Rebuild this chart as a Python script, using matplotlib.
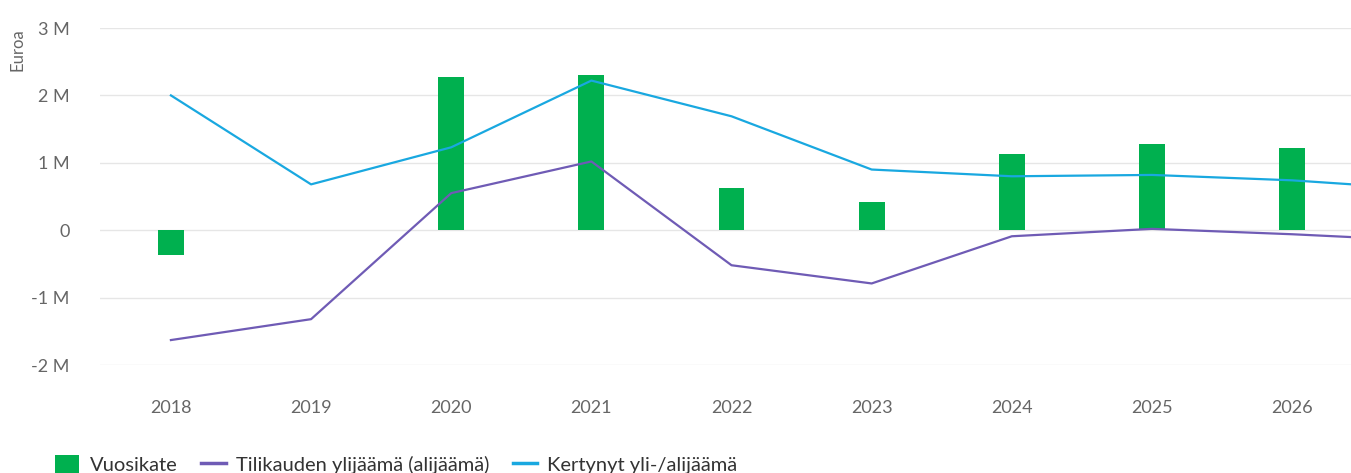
import numpy as np
import matplotlib
matplotlib.use('Agg')
import matplotlib.pyplot as plt
from matplotlib.patches import Patch
from matplotlib.lines import Line2D
from matplotlib.ticker import FuncFormatter

plt.rcParams['font.family'] = ['Lato', 'DejaVu Sans']

# Data (euros)
years = [2018, 2019, 2020, 2021, 2022, 2023, 2024, 2025, 2026]
vuosikate = [-0.37e6, 0.0, 2.27e6, 2.31e6, 0.62e6, 0.42e6, 1.13e6, 1.28e6, 1.22e6]

line_years = [2018, 2019, 2020, 2021, 2022, 2023, 2024, 2025, 2026, 2027]
tilikauden = [-1.63e6, -1.32e6, 0.55e6, 1.02e6, -0.52e6, -0.79e6, -0.09e6, 0.02e6, -0.06e6, -0.16e6]
kertynyt = [2.0e6, 0.68e6, 1.23e6, 2.22e6, 1.69e6, 0.90e6, 0.80e6, 0.82e6, 0.74e6, 0.60e6]

green = '#00b04f'
purple = '#6f5bb5'
blue = '#19a8e0'
grid_col = '#e6e6e6'
text_col = '#666666'

fig = plt.figure(figsize=(13.51, 4.73), dpi=100)
ax = fig.add_axes([100 / 1351, 1 - 365 / 473, 1 - 100 / 1351, (365 - 28) / 473])

ax.bar(years, vuosikate, width=0.185, color=green, zorder=2)
ax.plot(line_years, tilikauden, color=purple, lw=1.6, zorder=3)
ax.plot(line_years, kertynyt, color=blue, lw=1.6, zorder=3)

ax.set_xlim(2017.494, 2026.42)
ax.set_ylim(-2e6, 3e6)
ax.set_yticks(np.arange(-2e6, 3.1e6, 1e6))
ax.set_xticks(years)


def fmt_m(v, pos):
    if v == 0:
        return '0'
    return '%d M' % round(v / 1e6)


ax.yaxis.set_major_formatter(FuncFormatter(fmt_m))
ax.grid(axis='y', color=grid_col, lw=1)
ax.set_axisbelow(True)
for s in ax.spines.values():
    s.set_visible(False)
ax.tick_params(axis='both', length=0, colors=text_col, labelsize=13)
ax.tick_params(axis='y', pad=22)
ax.tick_params(axis='x', pad=25)
for lab in ax.get_yticklabels():
    lab.set_horizontalalignment('right')

fig.text(18 / 1351, 1 - 50 / 473, 'Euroa', rotation=90, ha='center', va='center',
         color=text_col, fontsize=12)

handles = [Patch(facecolor=green, edgecolor='none'),
           Line2D([], [], color=purple, lw=2.5),
           Line2D([], [], color=blue, lw=2.5)]
labels = ['Vuosikate', 'Tilikauden ylijäämä (alijäämä)', 'Kertynyt yli-/alijäämä']
leg = fig.legend(handles, labels, loc='center left', bbox_to_anchor=(0.0275, 0.018),
                 ncol=3, frameon=False, fontsize=14.5, handlelength=1.2,
                 handleheight=1.1, columnspacing=1.2, handletextpad=0.5)
for t in leg.get_texts():
    t.set_color('#333333')

fig.savefig('out.png', dpi=100)
